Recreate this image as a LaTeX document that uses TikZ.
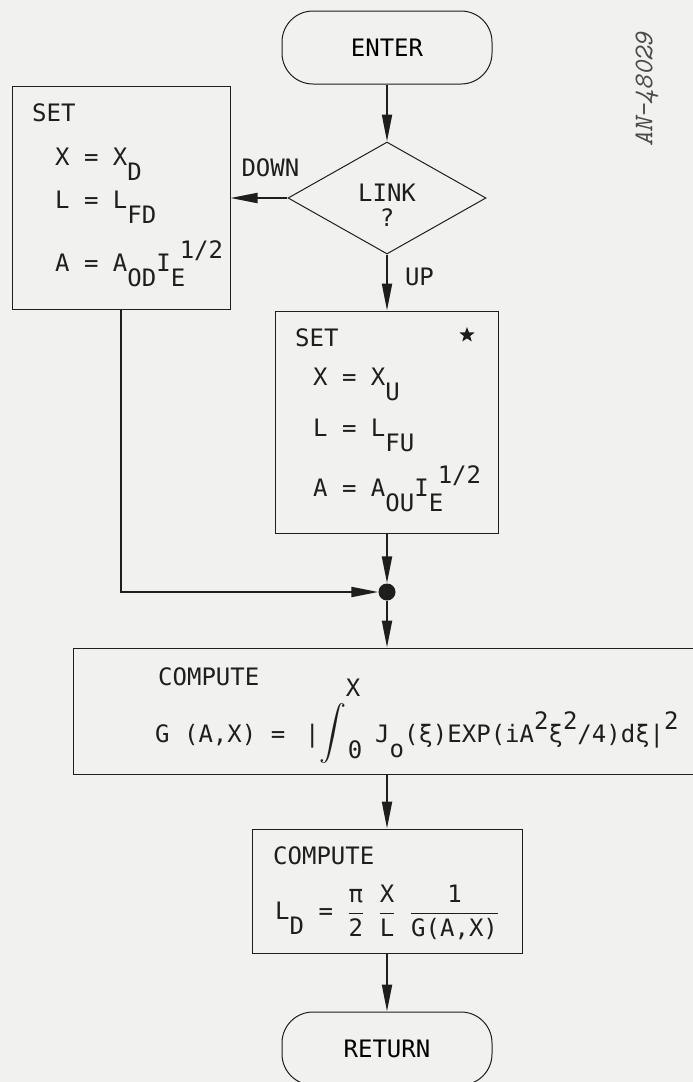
\documentclass[tikz,border=0pt]{standalone}
\usepackage{amsmath}
\usepackage{fontspec}
\setmainfont{DejaVu Sans Mono}
\usepackage{tikz}
\usetikzlibrary{arrows.meta,positioning,shapes,calc}
\definecolor{paper}{HTML}{F1F1EF}
\definecolor{ink}{HTML}{1E1E1E}
\definecolor{inkgray}{HTML}{4A4A4A}
\newcommand{\lettr}{\fontsize{24}{25}\selectfont}
\newcommand{\lo}[1]{\raisebox{-15pt}{#1}}
\newcommand{\hi}[1]{\raisebox{13pt}{#1}}
\newcommand{\losup}[2]{\rlap{\lo{#1}}\hspace{9pt}\hi{#2}}
\newcommand{\fr}[2]{$\displaystyle\frac{\mbox{#1}}{\mbox{#2}}$}
\tikzset{
  termbox/.style={
    draw=ink, line width=1pt, rectangle, rounded corners=31pt,
    minimum width=210pt, minimum height=73pt, font=\lettr
  },
  procbox/.style={
    draw=ink, line width=1pt, rectangle, inner sep=0pt
  },
  decision/.style={
    draw=ink, line width=1pt, diamond, inner sep=0pt,
    minimum width=198pt, minimum height=112pt
  },
  joindot/.style={circle, fill=ink, inner sep=0pt, minimum size=17pt},
  mark5/.style={star, star points=5, star point ratio=2.4, fill=ink, inner sep=0pt, minimum size=16pt},
  line/.style={inner sep=0pt, anchor=base west, font=\lettr, text=ink},
  lbl/.style={inner sep=0pt, font=\lettr, text=ink},
  flow/.style={draw=ink, line width=2pt, -{Triangle[length=27pt,width=10pt]}}
}
\begin{document}
\begin{tikzpicture}[x=1pt,y=-1pt]
  \useasboundingbox[fill=paper] (0,0) rectangle (693,1082);

  \node[termbox] (enter) at (387,47.5) {ENTER};
  \node[decision] (link) at (387,198) {};
  \node[lbl,align=center] (linktxt) at ([yshift=-7pt]link.center) {LINK\\?};
  \node[procbox,minimum width=218pt,minimum height=223pt] (setd) at (121,198) {};
  \node[procbox,minimum width=223pt,minimum height=222pt] (setu) at (387,422) {};
  \node[joindot] (join) at (387,592) {};
  \node[procbox,minimum width=628pt,minimum height=126pt] (comp) at (387,711) {};
  \node[procbox,minimum width=270pt,minimum height=124pt] (compl) at (387,891) {};
  \node[termbox] (ret) at (387,1048.5) {RETURN};

  % box texts
  \foreach \i/\x/\y/\t in {0/32/121.5/SET, 1/55/165.5/{X = X\lo{D}},
      2/55/208.5/{L = L\lo{FD}}, 3/55/271.5/{A = A\lo{OD}I\losup{E}{1/2}}} {
    \node[line] (setd\i) at (\x,\y) {\t};
  }
  \foreach \i/\x/\y/\t in {0/295/346.5/SET, 1/313/385.5/{X = X\lo{U}},
      2/313/436.5/{L = L\lo{FU}}, 3/313/496.5/{A = A\lo{OU}I\losup{E}{1/2}}} {
    \node[line] (setu\i) at (\x,\y) {\t};
  }
  \node[mark5] (star) at (467,335) {};

  \node[line] (comp0) at (158,685.5) {COMPUTE};
  \node[line] (comp1) at (155,742) {G (A,X) =};
  \node[line] (comp2) at (305,742) {|};
  \node[lbl] (intg) at (333,733) {\resizebox*{!}{60pt}{$\displaystyle\int$}};
  \node[lbl] (intx) at (353,688) {X};
  \node[lbl] (int0) at (355,750) {0};
  \node[line] (comp3) at (375,742) {J\lo{o}(ξ)EXP(iA\hi{2}ξ\hi{2}/4)dξ|\hi{2}};
  \node[line] (compl0) at (273,864.5) {COMPUTE};
  \node[line] (compl1) at (275,919.5) {L\lo{D} = \fr{π}{2} \fr{X}{L} \fr{1}{G(A,X)}};

  \node[lbl,rotate=90,font=\ttfamily\itshape\fontsize{27}{27}\selectfont,text=inkgray] (tag) at (647,90) {AN-48029};

  % connectors
  \draw[flow] (enter) -- (link);
  \draw[flow] (link) -- node[lbl,pos=0.3,above=20pt] (down) {DOWN} (setd);
  \draw[flow] (link) -- node[lbl,pos=0.4,right=17pt] (up) {UP} (setu);
  \draw[flow] (setu) -- (join);
  \draw[flow] (setd) |- (join);
  \draw[flow] (join) -- (comp);
  \draw[flow] (comp) -- (compl);
  \draw[flow] (compl) -- (ret);
\end{tikzpicture}
\end{document}
